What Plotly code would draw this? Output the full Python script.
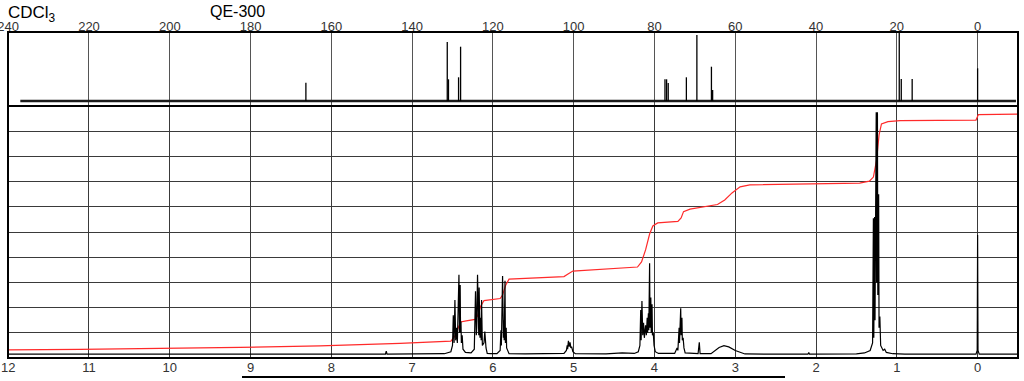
import plotly.graph_objects as go

# ---------------- data ----------------
# 13C spectrum (top panel): peak positions (ppm) and heights (arbitrary units)
c13_ppm = [166.3, 131.3, 131.0, 128.5, 128.0, 77.4, 77.0, 76.6, 72.1, 69.5, 65.9, 65.6, 19.4, 18.9, 16.2, 0.0]
c13_int = [18.3, 59.0, 21.7, 23.7, 54.3, 21.7, 21.7, 18.0, 23.7, 66.0, 34.3, 11.0, 68.0, 22.0, 22.0, 32.7]
c13_base_ppm = [237.0, -9.5]
c13_base_int = [0.0, 0.0]

# 1H spectrum (bottom panel), read point by point (ppm, intensity in grid units)
h1_ppm = [12.0, 7.40, 7.33, 7.32, 7.31, 6.60, 6.52,
          6.50, 6.49, 6.48, 6.47, 6.46, 6.45, 6.44, 6.435, 6.43, 6.42, 6.413, 6.405, 6.40, 6.395, 6.39, 6.38, 6.37,
          6.34, 6.27, 6.23,
          6.215, 6.205, 6.20, 6.19, 6.175, 6.17, 6.16, 6.15, 6.145, 6.14, 6.13, 6.11, 6.10, 6.085, 6.08, 6.07,
          6.03, 5.95, 5.91,
          5.90, 5.895, 5.88, 5.87, 5.865, 5.86, 5.85, 5.845, 5.835, 5.83, 5.82, 5.80,
          5.60, 5.12, 5.09, 5.08, 5.075, 5.065, 5.055, 5.045, 5.035, 5.025, 5.01, 4.98,
          4.60, 4.40, 4.25, 4.20,
          4.18, 4.17, 4.165, 4.155, 4.145, 4.135, 4.125, 4.11, 4.10, 4.09, 4.085, 4.075, 4.07, 4.06, 4.055,
          4.045, 4.04, 4.03, 4.025, 4.015, 4.005, 3.99, 3.95,
          3.75, 3.72, 3.71, 3.695, 3.69, 3.675, 3.67, 3.66, 3.655, 3.645, 3.635, 3.62,
          3.46, 3.445, 3.435,
          3.30, 3.25, 3.20, 3.14, 3.08, 3.00, 2.93, 2.88,
          2.10, 2.09, 2.08,
          1.50, 1.40, 1.33, 1.30, 1.29, 1.285, 1.275, 1.27, 1.255, 1.25, 1.24, 1.235, 1.225, 1.22, 1.21,
          1.20, 1.17, 1.15, 1.13, 1.05, 0.90,
          0.02, 0.005, 0.0, -0.005, -0.02, -0.5]
h1_int = [0.15, 0.15, 0.15, 0.27, 0.15, 0.17, 0.25,
          0.5, 1.7, 0.6, 2.3, 0.7, 1.2, 0.6, 1.4, 0.8, 3.3, 1.0, 2.9, 1.0, 1.45, 0.6, 0.9, 0.35,
          0.22, 0.2, 0.35,
          2.65, 0.9, 1.2, 3.3, 0.9, 2.8, 0.8, 1.6, 0.7, 2.3, 0.5, 0.6, 1.05, 0.4, 0.25, 0.18,
          0.17, 0.17, 0.3,
          1.1, 0.5, 3.25, 0.8, 1.5, 0.7, 3.07, 0.6, 1.2, 0.4, 0.3, 0.17,
          0.16, 0.18, 0.3, 0.5, 0.35, 0.68, 0.45, 0.62, 0.4, 0.45, 0.25, 0.17,
          0.16, 0.2, 0.18, 0.25,
          0.5, 1.9, 0.7, 2.26, 0.9, 1.4, 0.8, 1.3, 0.9, 1.6, 1.0, 1.77, 1.1, 3.76, 1.2,
          2.4, 1.0, 2.13, 0.9, 1.0, 0.5, 0.25, 0.18,
          0.18, 0.4, 0.3, 1.2, 0.6, 1.97, 0.9, 1.6, 0.7, 0.8, 0.4, 0.2,
          0.17, 0.62, 0.17,
          0.17, 0.3, 0.42, 0.49, 0.44, 0.3, 0.2, 0.16,
          0.15, 0.22, 0.15,
          0.16, 0.2, 0.3, 0.6, 5.55, 0.8, 5.6, 1.5, 9.75, 3.0, 9.75, 2.5, 6.5, 1.2, 1.65,
          0.5, 0.3, 0.35, 0.22, 0.17, 0.15,
          0.15, 0.3, 4.88, 0.3, 0.15, 0.15]

# integral curve (ppm, grid units)
int_ppm = [12.0, 11.11, 9.13, 8.14, 7.15, 6.52, 6.47, 6.43, 6.40, 6.33, 6.22, 6.19, 6.15, 6.11,
           5.91, 5.88, 5.84, 5.80, 5.12, 5.07, 5.01, 4.21, 4.16, 4.11, 4.06, 4.02, 3.96, 3.71,
           3.67, 3.64, 3.56, 3.22, 3.13, 3.04, 2.94, 2.82, 2.20, 1.46, 1.34, 1.29, 1.25, 1.22,
           1.19, 1.11, 0.96, 0.02, -0.01, -0.49]
int_val = [0.32, 0.34, 0.42, 0.48, 0.58, 0.67, 0.87, 1.19, 1.43, 1.47, 1.53, 1.67, 2.06, 2.28,
           2.36, 2.5, 2.9, 3.13, 3.23, 3.33, 3.45, 3.61, 3.81, 4.29, 4.92, 5.24, 5.36, 5.42,
           5.56, 5.81, 5.91, 6.09, 6.27, 6.55, 6.79, 6.87, 6.89, 6.94, 7.02, 7.18, 7.86, 8.85,
           9.29, 9.38, 9.42, 9.44, 9.66, 9.68]

h1_ticks = list(range(0, 13))
c13_ticks = list(range(0, 241, 20))

# ---------------- figure ----------------
W, H = 1024, 381
x0, x1 = 8 / W, 1018 / W
top_lo, top_hi = 1 - 106 / H, 1 - 32 / H
bot_lo, bot_hi = 1 - 358 / H, 1 - 106 / H

fig = go.Figure()

# 13C sticks
cx, cy = [], []
for p, h in zip(c13_ppm, c13_int):
    cx += [p, p, None]
    cy += [0, h, None]
fig.add_trace(go.Scatter(x=c13_base_ppm, y=c13_base_int, mode="lines",
                         line=dict(color="#1a1a1a", width=2.5), xaxis="x2", yaxis="y2",
                         hoverinfo="skip", showlegend=False))
fig.add_trace(go.Scatter(x=cx, y=cy, mode="lines", line=dict(color="black", width=1.3),
                         xaxis="x2", yaxis="y2", showlegend=False))

# 1H integral and spectrum
fig.add_trace(go.Scatter(x=int_ppm, y=int_val, mode="lines",
                         line=dict(color="#ff2a2a", width=1.2), xaxis="x", yaxis="y",
                         showlegend=False))
fig.add_trace(go.Scatter(x=h1_ppm, y=h1_int, mode="lines",
                         line=dict(color="black", width=1.2), xaxis="x", yaxis="y",
                         showlegend=False))

grid_col = "#3a3a3a"
tick_font = dict(family="Liberation Sans, Arial, sans-serif", size=13, color="#333333")

fig.update_layout(
    width=W, height=H,
    autosize=False,
    margin=dict(l=0, r=0, t=0, b=0, pad=0),
    paper_bgcolor="white", plot_bgcolor="white",
    showlegend=False,
    xaxis=dict(domain=[x0, x1], range=[12.002, -0.5], anchor="y", automargin=False,
               tickmode="array", tickvals=h1_ticks, ticktext=[str(t) for t in h1_ticks],
               showgrid=True, gridcolor=grid_col, gridwidth=1, zeroline=False,
               showline=False, ticks="", tickfont=tick_font, ticklabelstandoff=0,
               ticklabeloverflow="allow"),
    yaxis=dict(domain=[bot_lo, bot_hi], range=[0, 10], anchor="x", automargin=False,
               tickmode="array", tickvals=list(range(1, 10)),
               showgrid=True, gridcolor=grid_col, gridwidth=1, zeroline=False,
               showticklabels=False, showline=False, ticks=""),
    xaxis2=dict(domain=[x0, x1], range=[240.05, -10], anchor="y2", side="top", automargin=False,
                tickmode="array", tickvals=c13_ticks, ticktext=[str(t) for t in c13_ticks],
                showgrid=True, gridcolor="#555555", gridwidth=1, zeroline=False,
                showline=False, ticks="", tickfont=tick_font, ticklabelstandoff=-3,
                ticklabeloverflow="allow"),
    yaxis2=dict(domain=[top_lo, top_hi], range=[-5, 69], anchor="x2", automargin=False,
                showgrid=False, zeroline=False, showticklabels=False, showline=False),
)

# panel frames
fig.add_shape(type="rect", xref="paper", yref="paper", x0=x0, x1=x1, y0=top_lo, y1=top_hi,
              line=dict(color="black", width=2), layer="above")
fig.add_shape(type="rect", xref="paper", yref="paper", x0=x0, x1=x1, y0=bot_lo, y1=bot_hi,
              line=dict(color="black", width=2), layer="above")
# line beneath the lower axis labels
fig.add_shape(type="line", xref="paper", yref="paper", x0=242 / W, x1=785 / W,
              y0=1 - 377 / H, y1=1 - 377 / H, line=dict(color="black", width=2))

# titles
fig.add_annotation(xref="paper", yref="paper", x=6 / W, y=1 - 1 / H, xanchor="left", yanchor="top",
                   text="CDCl<sub>3</sub>", showarrow=False,
                   font=dict(family="Liberation Sans, Arial, sans-serif", size=17, color="black"))
fig.add_annotation(xref="paper", yref="paper", x=208 / W, y=1 - 1 / H, xanchor="left", yanchor="top",
                   text="QE-300", showarrow=False,
                   font=dict(family="Liberation Sans, Arial, sans-serif", size=16, color="black"))

fig.write_html("out.html", config={"displayModeBar": False},
               post_script="document.body.style.margin='0px';document.body.style.padding='0px';")
